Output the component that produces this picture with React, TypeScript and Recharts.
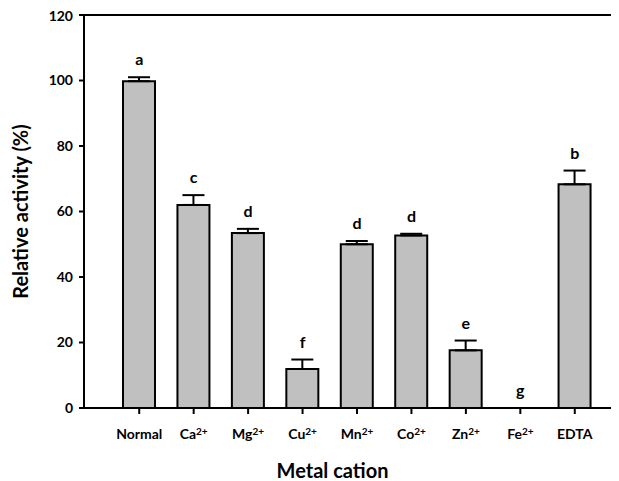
import React from "react";
import {
  ComposedChart,
  Bar,
  Line,
  XAxis,
  YAxis,
  ErrorBar,
  LabelList,
  ReferenceLine,
  Label,
} from "recharts";

const categories = ["Normal", "Ca", "Mg", "Cu", "Mn", "Co", "Zn", "Fe", "EDTA"];
const superscripts = ["", "2+", "2+", "2+", "2+", "2+", "2+", "2+", ""];
const activity = [99.8, 62, 53.4, 11.9, 50, 52.7, 17.6, 0, 68.3];
const errorUp = [1.2, 3, 1.3, 2.9, 1, 0.5, 3, 0, 4.2];
const letters = ["a", "c", "d", "f", "d", "d", "e", "g", "b"];
const yTicks = [0, 20, 40, 60, 80, 100, 120];

const data = categories.map((c, i) => ({
  name: c,
  sup: superscripts[i],
  value: activity[i],
  err: [0, errorUp[i]],
  top: activity[i] + errorUp[i],
  letter: letters[i],
}));

const FONT = "Lato, 'Open Sans', sans-serif";

const XTick = (props: any) => {
  const { x, y, payload, index } = props;
  const sup = superscripts[payload.index ?? index] ?? "";
  return (
    <text
      x={x}
      y={y}
      dy={23}
      textAnchor="middle"
      fontFamily={FONT}
      fontWeight="bold"
      fontSize={14}
      fill="#000"
    >
      {payload.value}
      {sup ? (
        <tspan fontSize={10} dy={-4}>
          {sup}
        </tspan>
      ) : null}
    </text>
  );
};

export default function App() {
  return (
    <div style={{ fontFamily: FONT }}>
      <ComposedChart
        width={611}
        height={473}
        data={data}
        margin={{ top: 7, right: 0, bottom: 0, left: 0 }}
      >
        <XAxis
          dataKey="name"
          type="category"
          padding={{ left: 28, right: 17 }}
          stroke="#000"
          strokeWidth={2}
          tickLine={{ stroke: "#000", strokeWidth: 2 }}
          tickSize={6}
          tickMargin={2}
          height={73}
          interval={0}
          tick={<XTick />}
        >
          <Label
            value="Metal cation"
            position="insideBottom"
            offset={3}
            dx={-19}
            style={{ fontFamily: FONT, fontWeight: "bold", fontSize: 20, fill: "#000" }}
          />
        </XAxis>
        <YAxis
          domain={[0, 120]}
          ticks={yTicks}
          width={76}
          stroke="#000"
          strokeWidth={2}
          tickLine={{ stroke: "#000", strokeWidth: 2 }}
          tickSize={5}
          tickMargin={6}
          tick={{ fill: "#000", fontWeight: "bold", fontSize: 14, fontFamily: FONT }}
          allowDataOverflow
        >
          <Label
            value="Relative activity (%)"
            angle={-90}
            position="insideLeft"
            offset={13}
            style={{
              textAnchor: "middle",
              fontFamily: FONT,
              fontWeight: "bold",
              fontSize: 20,
              fill: "#000",
            }}
          />
        </YAxis>
        <ReferenceLine y={120} stroke="#000" strokeWidth={2} />
        <Bar
          dataKey="value"
          fill="#c0c0c0"
          stroke="#000"
          strokeWidth={2}
          barSize={32}
          isAnimationActive={false}
        >
          <ErrorBar dataKey="err" width={11} stroke="#000" strokeWidth={2} direction="y" />
        </Bar>
        <Line
          dataKey="top"
          stroke="none"
          dot={false}
          activeDot={false}
          isAnimationActive={false}
        >
          <LabelList
            dataKey="letter"
            position="top"
            offset={12}
            style={{ fontFamily: FONT, fontWeight: "bold", fontSize: 16, fill: "#000" }}
          />
        </Line>
      </ComposedChart>
    </div>
  );
}
